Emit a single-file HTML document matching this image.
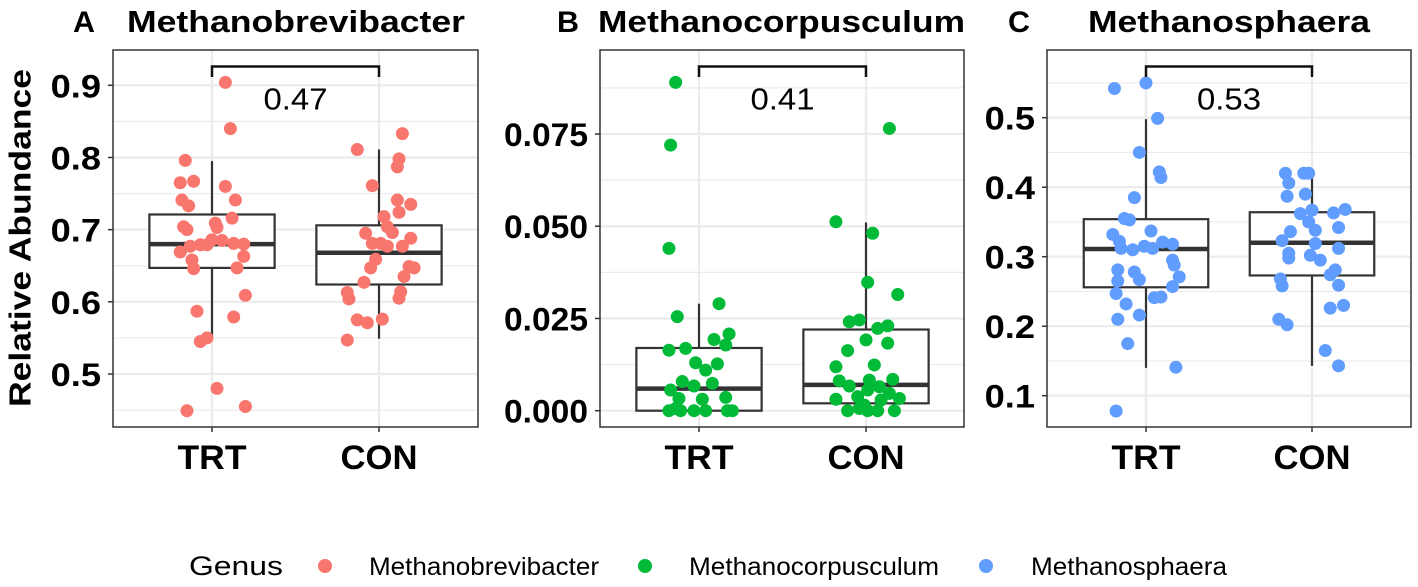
<!DOCTYPE html>
<html><head><meta charset="utf-8">
<style>
html,body{margin:0;padding:0;background:#fff;}
svg{display:block;font-family:"Liberation Sans",Arial,sans-serif;}
</style></head>
<body>
<svg id="chart" width="1418" height="587" viewBox="0 0 1418 587" xmlns="http://www.w3.org/2000/svg">
<text x="20" y="238" transform="rotate(-90 20 238)" text-anchor="middle" dominant-baseline="central" font-size="31" font-weight="bold" textLength="338" lengthAdjust="spacingAndGlyphs">Relative Abundance</text>
<g>
<text x="189" y="575" font-size="27" textLength="94" lengthAdjust="spacingAndGlyphs">Genus</text>
<g><circle cx="325" cy="566" r="7" fill="#F8766D"/><text x="369" y="575" font-size="25" textLength="230" lengthAdjust="spacingAndGlyphs">Methanobrevibacter</text></g>
<g><circle cx="645" cy="566" r="7" fill="#00BA38"/><text x="689" y="575" font-size="25" textLength="250" lengthAdjust="spacingAndGlyphs">Methanocorpusculum</text></g>
<g><circle cx="986" cy="566" r="7" fill="#619CFF"/><text x="1031" y="575" font-size="25" textLength="196" lengthAdjust="spacingAndGlyphs">Methanosphaera</text></g>
</g>
</svg>
<script>
const categories = ["TRT","CON"];
// Panel A
const aTicks = [0.5,0.6,0.7,0.8,0.9];
const aTickLabels = ["0.5","0.6","0.7","0.8","0.9"];
const aBoxTRT = [0.548,0.647,0.680,0.721,0.795];
const aBoxCON = [0.549,0.624,0.668,0.706,0.811];
const aTRTvals = [0.904,0.840,0.796,0.765,0.767,0.760,0.741,0.741,0.733,0.716,0.704,0.700,0.709,0.703,0.669,0.677,0.679,0.679,0.686,0.685,0.681,0.680,0.663,0.658,0.646,0.647,0.609,0.587,0.579,0.545,0.550,0.480,0.449,0.455];
const aTRTjit = [0.08,0.11,-0.16,-0.19,-0.11,0.08,0.14,-0.18,-0.14,0.12,-0.17,-0.15,0.02,0.03,-0.19,-0.13,-0.07,-0.03,0,0.06,0.13,0.19,0.19,-0.12,-0.11,0.15,0.2,-0.09,0.13,-0.07,-0.03,0.03,-0.15,0.2];
const aCONvals = [0.833,0.811,0.798,0.787,0.761,0.741,0.735,0.724,0.718,0.704,0.696,0.695,0.688,0.681,0.681,0.677,0.677,0.659,0.647,0.649,0.647,0.635,0.627,0.614,0.605,0.613,0.604,0.575,0.571,0.576,0.547];
const aCONjit = [0.14,-0.13,0.12,0.11,-0.04,0.11,0.19,0.12,0.03,0.05,0.08,-0.08,0.19,-0.04,0.01,0.05,0.14,-0.02,-0.05,0.18,0.21,0.15,-0.09,0.13,0.12,-0.19,-0.18,-0.13,-0.07,0.02,-0.19];
// Panel B
const bTicks = [0,0.025,0.05,0.075];
const bTickLabels = ["0.000","0.025","0.050","0.075"];
const bBoxTRT = [0,0,0.006,0.017,0.029];
const bBoxCON = [0,0.002,0.007,0.022,0.051];
const bTRTvals = [0.089,0.072,0.044,0.0255,0.029,0.0208,0.0193,0.0178,0.0164,0.0169,0.013,0.011,0.0127,0.0079,0.0067,0.0074,0.0056,0.0033,0.0031,0.0036,0,0,0,0,0,0,0.0006];
const bTRTjit = [-0.14,-0.17,-0.18,-0.13,0.12,0.18,0.09,0.16,-0.18,-0.08,-0.02,0.04,0.11,-0.1,-0.03,0.08,-0.17,-0.12,0.02,0.16,-0.18,-0.11,-0.03,0.04,0.17,0.2,-0.14];
const bCONvals = [0.0765,0.0512,0.0481,0.0348,0.0315,0.0241,0.0246,0.0223,0.023,0.0192,0.0183,0.0163,0.0124,0.0119,0.0081,0.0083,0.0085,0.0067,0.0065,0.0056,0.0038,0.0047,0.0031,0.0029,0.0033,0.0015,0,0,0,0,0.0006];
const bCONjit = [0.14,-0.18,0.04,0.01,0.19,-0.1,-0.04,0.07,0.13,0,0.13,-0.11,0.05,-0.18,-0.16,0.02,0.16,-0.1,0.08,0.01,-0.05,0.14,-0.18,0.09,0.2,-0.01,-0.11,0.01,0.07,0.17,-0.04];
// Panel C
const cTicks = [0.1,0.2,0.3,0.4,0.5];
const cTickLabels = ["0.1","0.2","0.3","0.4","0.5"];
const cBoxTRT = [0.140,0.256,0.311,0.354,0.498];
const cBoxCON = [0.143,0.273,0.320,0.364,0.420];
const cTRTvals = [0.542,0.550,0.499,0.450,0.422,0.414,0.385,0.355,0.353,0.337,0.332,0.322,0.312,0.310,0.315,0.312,0.321,0.318,0.295,0.288,0.271,0.281,0.278,0.267,0.265,0.257,0.247,0.241,0.242,0.232,0.216,0.210,0.175,0.141,0.078];
const cTRTjit = [-0.19,0,0.07,-0.04,0.08,0.09,-0.07,-0.13,-0.1,0.03,-0.2,-0.16,-0.15,-0.08,-0.01,0.04,0.1,0.16,0.16,0.17,0.2,-0.17,-0.07,-0.04,-0.17,0.16,-0.18,0.05,0.09,-0.12,-0.04,-0.17,-0.11,0.18,-0.18];
const cCONvals = [0.420,0.420,0.420,0.406,0.387,0.390,0.368,0.363,0.362,0.367,0.342,0.336,0.338,0.350,0.323,0.319,0.312,0.305,0.302,0.298,0.295,0.281,0.274,0.268,0.258,0.259,0.230,0.226,0.210,0.202,0.165,0.143];
const cCONjit = [-0.16,-0.05,-0.02,-0.14,-0.15,-0.04,0.2,0.13,-0.07,0,0.16,-0.13,0.02,-0.02,-0.18,0.02,0.16,-0.14,-0.01,-0.14,0.05,0.14,0.11,-0.19,-0.18,0.16,0.19,0.11,-0.2,-0.15,0.08,0.16];

const NS="http://www.w3.org/2000/svg";
const svg=document.getElementById('chart');
function mk(tag,attrs,parent){const e=document.createElementNS(NS,tag);for(const k in attrs)e.setAttribute(k,attrs[k]);(parent||svg).appendChild(e);return e;}

function panel(o){
  const g=mk('g',{});
  
  
  const top=50,bot=427;
  const y=v=>o.y0px+(v-o.v0)*(o.y1px-o.y0px)/(o.v1-o.v0);
  const band=o.xCON-o.xTRT;
  const xc=[o.xTRT,o.xCON];
  const step=o.ticks[1]-o.ticks[0];
  for(let i=-1;i<o.ticks.length;i++){
    const v=o.ticks[0]+step*(i+0.5);const py=y(v);
    if(py>top&&py<bot){const l=mk('line',{x1:o.left,x2:o.right,y1:py,y2:py,stroke:'#ebebeb','stroke-width':1.2},g);
      
      }
  }
  o.ticks.forEach((v,i)=>{const py=y(v);
    const l=mk('line',{x1:o.left,x2:o.right,y1:py,y2:py,stroke:'#ebebeb','stroke-width':2.2},g);
    
    
    mk('line',{x1:o.left-5,x2:o.left,y1:py,y2:py,stroke:'#333','stroke-width':1.5},g);
    const lab=o.tickLabels[i];
    const t=mk('text',{x:o.left-12,y:py+1,'text-anchor':'end','dominant-baseline':'central','font-size':32,'font-weight':'bold',textLength:lab.length*16.8,lengthAdjust:'spacingAndGlyphs'},g);
    t.textContent=lab;
    
    
  });
  xc.forEach((px,i)=>{
    const l=mk('line',{x1:px,x2:px,y1:top,y2:bot,stroke:'#ebebeb','stroke-width':2.2},g);
    
    
    mk('line',{x1:px,x2:px,y1:bot,y2:bot+5,stroke:'#333','stroke-width':1.5},g);
    const t=mk('text',{x:px,y:458,'text-anchor':'middle','dominant-baseline':'central','font-size':34,'font-weight':'bold',textLength:i?77:69,lengthAdjust:'spacingAndGlyphs'},g);
    t.textContent=categories[i];
    
    
  });
  [o.boxTRT,o.boxCON].forEach((b,i)=>{
    const cx=xc[i],hw=band*0.375;
    const bg=mk('g',{},g);
    
    
    mk('line',{x1:cx,x2:cx,y1:y(b[0]),y2:y(b[1]),stroke:'#333','stroke-width':2.2},bg);
    mk('line',{x1:cx,x2:cx,y1:y(b[3]),y2:y(b[4]),stroke:'#333','stroke-width':2.2},bg);
    mk('rect',{x:cx-hw,y:y(b[3]),width:2*hw,height:y(b[1])-y(b[3]),fill:'#fff',stroke:'#333','stroke-width':2.2},bg);
    mk('line',{x1:cx-hw,x2:cx+hw,y1:y(b[2]),y2:y(b[2]),stroke:'#333','stroke-width':4.5},bg);
  });
  [[o.trtV,o.trtJ],[o.conV,o.conJ]].forEach((s,i)=>{
    s[0].forEach((v,k)=>{
      const c=mk('circle',{cx:xc[i]+s[1][k]*band,cy:y(v),r:6.5,fill:o.color},g);
      
      
    });
  });
  const f=mk('rect',{x:o.left,y:top,width:o.right-o.left,height:bot-top,fill:'none',stroke:'#333','stroke-width':1.5},g);
  
  
  const br=mk('path',{d:`M${xc[0]} 77 V66.5 H${xc[1]} V77`,fill:'none',stroke:'#111','stroke-width':2.5},g);
  
  
  const pv=mk('text',{x:(xc[0]+xc[1])/2,y:99,'text-anchor':'middle','dominant-baseline':'central','font-size':31,textLength:64,lengthAdjust:'spacingAndGlyphs'},g);
  pv.textContent=o.p;
  
  
  const lt=mk('text',{x:o.letterX,y:32,'font-size':30,'font-weight':'bold',textLength:22,lengthAdjust:'spacingAndGlyphs'},g);
  lt.textContent=o.letter;
  
  
  const tt=mk('text',{x:o.titleX,y:32,'font-size':31,'font-weight':'bold',textLength:o.titleW,lengthAdjust:'spacingAndGlyphs'},g);
  tt.textContent=o.title;
  
  
}
panel({key:'a',letter:'A',letterX:73,title:'Methanobrevibacter',titleX:127,titleW:338,p:'0.47',left:113,right:478,xTRT:212,xCON:379,v0:0.5,v1:0.9,y0px:374,y1px:85.3,ticks:aTicks,tickLabels:aTickLabels,boxTRT:aBoxTRT,boxCON:aBoxCON,trtV:aTRTvals,trtJ:aTRTjit,conV:aCONvals,conJ:aCONjit,color:'#F8766D'});
panel({key:'b',letter:'B',letterX:557,title:'Methanocorpusculum',titleX:598,titleW:367,p:'0.41',left:600,right:964,xTRT:699,xCON:866,v0:0,v1:0.075,y0px:410.7,y1px:134,ticks:bTicks,tickLabels:bTickLabels,boxTRT:bBoxTRT,boxCON:bBoxCON,trtV:bTRTvals,trtJ:bTRTjit,conV:bCONvals,conJ:bCONjit,color:'#00BA38'});
panel({key:'c',letter:'C',letterX:1008,title:'Methanosphaera',titleX:1088,titleW:282,p:'0.53',left:1047,right:1411,xTRT:1146,xCON:1312,v0:0.1,v1:0.5,y0px:395.7,y1px:117.7,ticks:cTicks,tickLabels:cTickLabels,boxTRT:cBoxTRT,boxCON:cBoxCON,trtV:cTRTvals,trtJ:cTRTjit,conV:cCONvals,conJ:cCONjit,color:'#619CFF'});
</script>
</body></html>
